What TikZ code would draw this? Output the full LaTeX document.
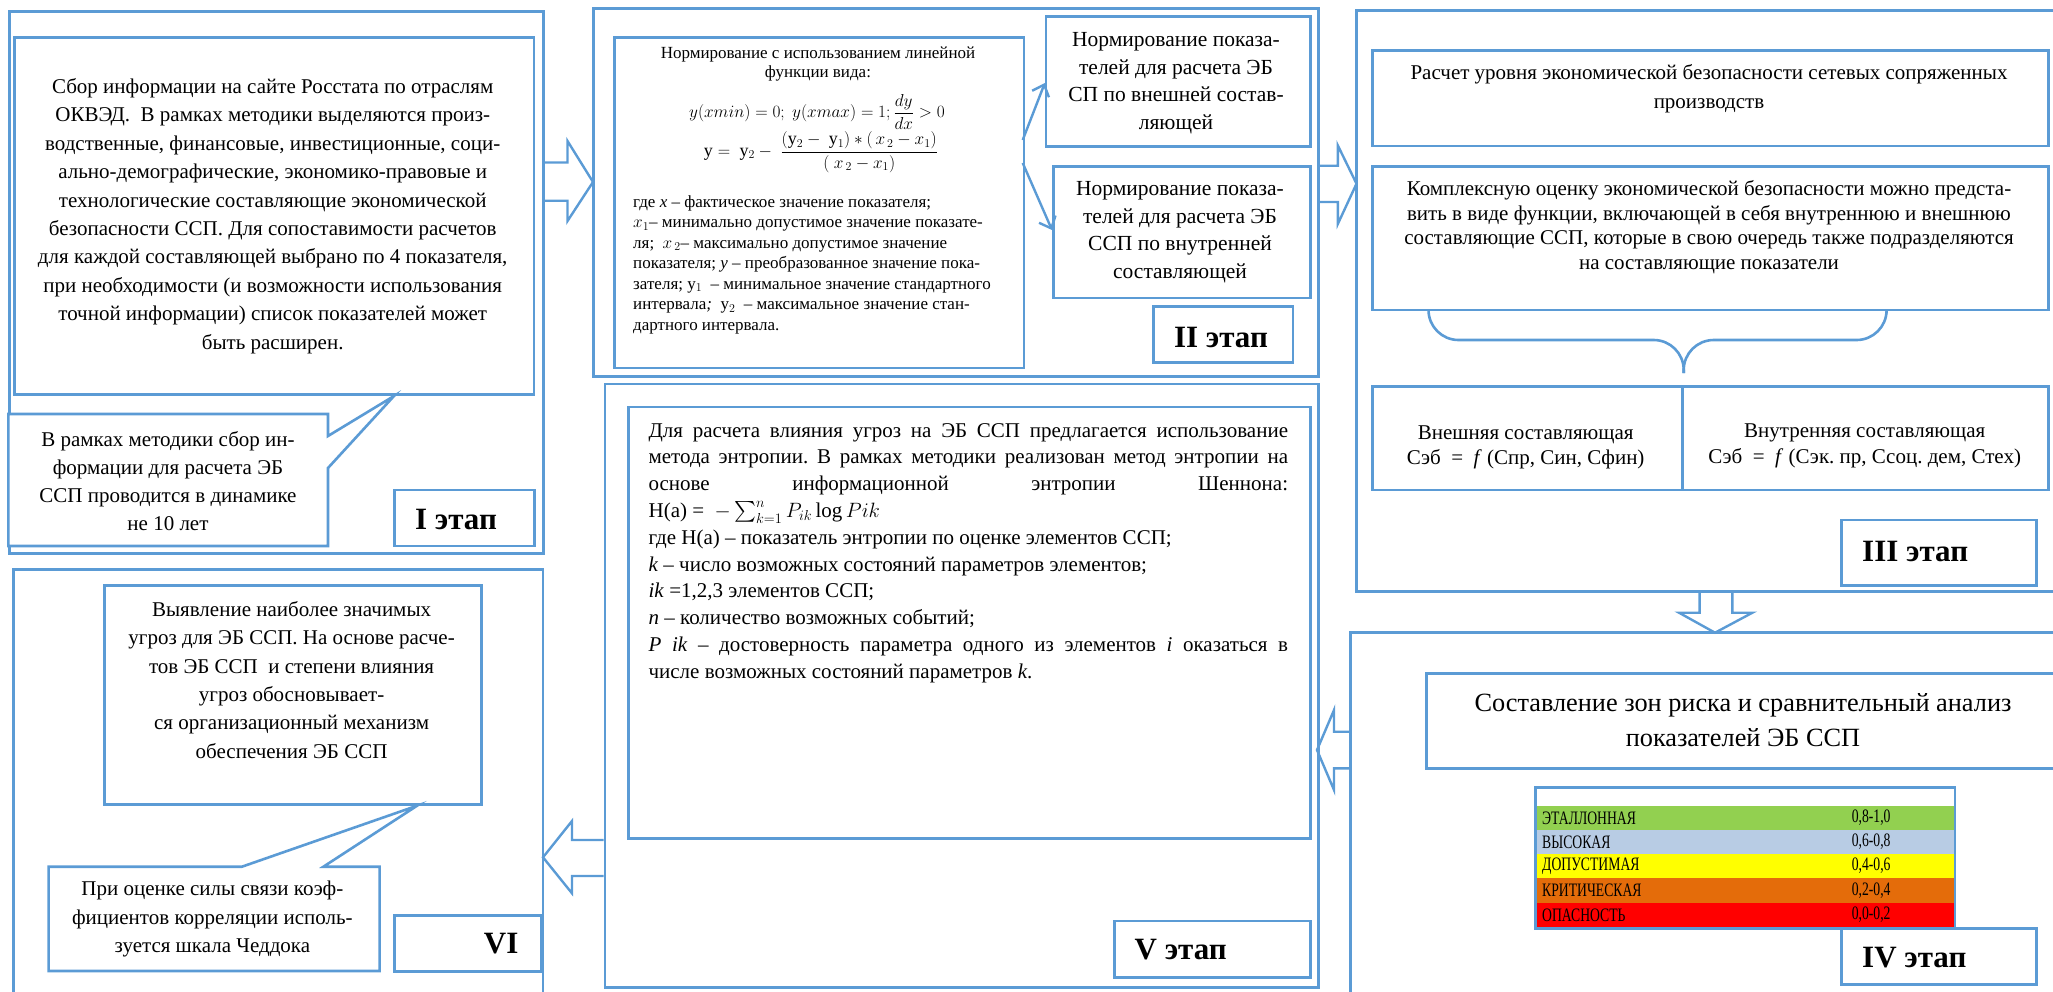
\documentclass[tikz,border=0pt]{standalone}
\usepackage{amsmath}
\usepackage{fontspec}
\setmainfont{Liberation Serif}
\usepackage{graphicx}
\usetikzlibrary{arrows.meta}
\frenchspacing
\definecolor{eblue}{RGB}{91,155,213}
\definecolor{zgreen}{RGB}{146,208,80}
\definecolor{zblue}{RGB}{184,204,228}
\definecolor{zyellow}{RGB}{255,255,0}
\definecolor{zorange}{RGB}{228,108,10}
\definecolor{zred}{RGB}{255,0,0}
\tikzset{
 box/.style={draw=eblue, line width=2.6pt, fill=white, inner sep=0pt, anchor=north west},
 frame/.style={draw=eblue, line width=2.6pt},
 txt/.style={inner sep=0pt, align=center, font=\fontsize{21}{28.4}\selectfont},
 lab/.style={inner sep=0pt, font=\fontsize{31}{31}\selectfont\bfseries},
 barrow/.style={draw=eblue, line width=2.4pt},
 larrow/.style={draw=eblue, line width=2.4pt, -{Straight Barb[length=10pt,width=18pt]}},
 zlab/.style={inner sep=0pt, anchor=west, font=\fontsize{19}{19}\selectfont},
}
\begin{document}
\frenchspacing
\begin{tikzpicture}[x=1pt,y=-1pt]
\useasboundingbox (0,0) rectangle (2053,991);
% ---------- outer frames ----------
\node[box, minimum width=534pt, minimum height=542pt] (outI) at (8,10) {};
\node[box, minimum width=725pt, minimum height=368pt] (outII) at (592,7) {};
\draw[frame] (2060,10.7) -- (1356.5,10.7) -- (1356.5,591.5) -- (2060,591.5);
\draw[frame] (2060,632.7) -- (1350.4,632.7) -- (1350.4,1000);
\node[box, minimum width=713.4pt, minimum height=603.3pt] (outV) at (603.6,382.7) {};
\draw[frame] (13.4,1000) -- (13.4,569.3) -- (543,569.3) -- (543,1000);
% ---------- stage I ----------
\node[box, minimum width=519.5pt, minimum height=357pt] (boxI) at (13,36) {};
\node[txt] (txtI) at (272.7,216) {Сбор информации на сайте Росстата по отраслям\\ОКВЭД.\ \ В рамках методики выделяются произ-\\водственные, финансовые, инвестиционные, соци-\\ально-демографические, экономико-правовые и\\технологические составляющие экономической\\безопасности ССП. Для сопоставимости расчетов\\для каждой составляющей выбрано по 4 показателя,\\при необходимости (и возможности использования\\точной информации) список показателей может\\быть расширен.};
\coordinate (tipI) at (394,396);
\draw[frame, fill=white] (8.4,414) -- (328,414) -- (328,436) -- (tipI) -- (328,468) -- (328,546) -- (8.4,546) -- cycle;
\node[txt, font=\fontsize{21}{27.8}\selectfont] (calI) at (168,481) {В рамках методики сбор ин-\\формации для расчета ЭБ\\ССП проводится в динамике\\не 10 лет};
\node[box, minimum width=140pt, minimum height=56pt] (labI) at (393,488.6) {};
\node[lab] (labItxt) at (456,519.6) {I этап};
% arrow I -> II
\draw[barrow] (542,162.5) -- (567.5,162.5) -- (567.5,141) -- (593,182) -- (567.5,221) -- (567.5,200.7) -- (542,200.7);
% ---------- stage II ----------
\node[box, minimum width=409.7pt, minimum height=330.7pt] (fbox) at (613,36) {};
\node[txt, font=\fontsize{17}{19}\selectfont] (fhead) at (818,64.5) {Нормирование с использованием линейной\\функции вида:};
\node[inner sep=0pt, font=\fontsize{18}{20}\selectfont] (f1) at (817,112) {$y(xmin) = 0;\ y(xmax) = 1;\displaystyle\frac{dy}{dx} > 0$};
\node[inner sep=0pt, font=\fontsize{18}{20}\selectfont] (f2) at (821,152) {$\mathrm{y} =\ \mathrm{y}_2 -\ \displaystyle\frac{(\mathrm{y}_2 -\ \mathrm{y}_1) * (\,x_{\,2} - x_1)}{(\ x_{\,2} - x_1)}$};
\node[inner sep=0pt, anchor=north west, align=left, font=\fontsize{17}{20.5}\selectfont] (fdef) at (633,195) {где \textit{x} – фактическое значение показателя;\\$x_1$– минимально допустимое значение показате-\\ля;\ \ $x_{\,2}$– максимально допустимое значение\\показателя; \textit{y} – преобразованное значение пока-\\зателя; $\mathrm{y}_1$\ \ – минимальное значение стандартного\\интервала\textit{;}\ \ $\mathrm{y}_2$\ \ – максимальное значение стан-\\дартного интервала.};
\node[box, minimum width=264.2pt, minimum height=130pt] (extb) at (1044.8,15) {};
\node[txt, font=\fontsize{21.5}{27.5}\selectfont] (extt) at (1176,83) {Нормирование показа-\\телей для расчета ЭБ\\СП по внешней состав-\\ляющей};
\node[box, minimum width=257pt, minimum height=131.7pt] (intb) at (1052,165) {};
\node[txt, font=\fontsize{21.5}{27.5}\selectfont] (intt) at (1180,232) {Нормирование показа-\\телей для расчета ЭБ\\ССП по внутренней\\составляющей};
\coordinate (a1s) at (1022.7,140);
\coordinate (a1e) at (1044.8,83);
\coordinate (a2s) at (1022.7,163);
\coordinate (a2e) at (1052,230);
\draw[larrow] (a1s) -- (a1e);
\draw[larrow] (a2s) -- (a2e);
\node[box, minimum width=139.6pt, minimum height=56pt] (labII) at (1152,305) {};
\node[lab] (labIItxt) at (1221,337) {II этап};
% arrow II -> III
\draw[barrow] (1317,165.7) -- (1337.8,165.7) -- (1337.8,145.4) -- (1356.5,183.7) -- (1337.8,224) -- (1337.8,202) -- (1317,202);
% ---------- stage III ----------
\node[box, minimum width=675.6pt, minimum height=95.5pt] (r1) at (1371.4,49) {};
\node[txt, font=\fontsize{21}{29}\selectfont] (r1t) at (1709,89) {Расчет уровня экономической безопасности сетевых сопряженных\\производств};
\node[box, minimum width=675.6pt, minimum height=143.5pt] (r2) at (1371.4,165) {};
\node[txt, font=\fontsize{21}{24.6}\selectfont] (r2t) at (1709,227) {Комплексную оценку экономической безопасности можно предста-\\вить в виде функции, включающей в себя внутреннюю и внешнюю\\составляющие ССП, которые в свою очередь также подразделяются\\на составляющие показатели};
\coordinate (brL) at (1428.5,309);
\coordinate (brR) at (1886.6,309);
\coordinate (brT) at (1683.7,373);
\draw[frame, rounded corners=30pt] (brL) -- (1428.5,340) -- (1683.7,340) -- (brT);
\draw[frame, rounded corners=30pt] (brR) -- (1886.6,340) -- (1683.7,340) -- (brT);
\node[box, minimum width=310pt, minimum height=103.7pt] (b1) at (1371.4,385) {};
\node[box, minimum width=365.6pt, minimum height=103.7pt] (b2) at (1681.4,385) {};
\node[txt, font=\fontsize{21}{25}\selectfont] (b1t) at (1525.7,447) {Внешняя составляющая\\Сэб \ = \ \textit{f} (Спр, Син, Сфин)};
\node[txt, font=\fontsize{21}{26}\selectfont] (b2t) at (1864.7,446) {Внутренняя составляющая\\Сэб \ = \ \textit{f} (Сэк. пр, Ссоц. дем, Стех)};
\node[box, minimum width=195pt, minimum height=65.8pt] (labIII) at (1840,518.6) {};
\node[lab, anchor=west] (labIIItxt) at (1862,551) {III этап};
% arrow III -> IV
\draw[barrow] (1699.6,591.5) -- (1699.6,612.7) -- (1679,612.7) -- (1715,632.7) -- (1752.4,612.7) -- (1732.3,612.7) -- (1732.3,591.5);
% ---------- stage IV ----------
\draw[frame] (2060,673.5) -- (1426.6,673.5) -- (1426.6,768.5) -- (2060,768.5);
\node[txt, font=\fontsize{26.3}{35}\selectfont] (s4t) at (1743,720) {Составление зон риска и сравнительный анализ\\показателей ЭБ ССП};
\fill[zgreen] (1534,806) rectangle (1953.5,830);
\fill[zblue] (1534,830) rectangle (1953.5,854);
\fill[zyellow] (1534,854) rectangle (1953.5,878.3);
\fill[zorange] (1534,878.3) rectangle (1953.5,902.7);
\fill[zred] (1534,902.7) rectangle (1953.5,927);
\node[draw=eblue, line width=2.6pt, inner sep=0pt, anchor=north west, minimum width=419.5pt, minimum height=141pt] (ztab) at (1534,786) {};
\node[zlab] (z1a) at (1542,818) {\scalebox{0.72}[1]{ЭТАЛЛОННАЯ}};
\node[zlab] (z1b) at (1851.6,818) {\scalebox{0.72}[1]{0,8-1,0}};
\node[zlab] (z2a) at (1542,842) {\scalebox{0.72}[1]{ВЫСОКАЯ}};
\node[zlab] (z2b) at (1851.6,842) {\scalebox{0.72}[1]{0,6-0,8}};
\node[zlab] (z3a) at (1542,866) {\scalebox{0.72}[1]{ДОПУСТИМАЯ}};
\node[zlab] (z3b) at (1851.6,866) {\scalebox{0.72}[1]{0,4-0,6}};
\node[zlab] (z4a) at (1542,890.5) {\scalebox{0.72}[1]{КРИТИЧЕСКАЯ}};
\node[zlab] (z4b) at (1851.6,890.5) {\scalebox{0.72}[1]{0,2-0,4}};
\node[zlab] (z5a) at (1542,914.8) {\scalebox{0.72}[1]{ОПАСНОСТЬ}};
\node[zlab] (z5b) at (1851.6,914.8) {\scalebox{0.72}[1]{0,0-0,2}};
\node[box, minimum width=195pt, minimum height=56pt] (labIV) at (1840.3,927) {};
\node[lab, anchor=west] (labIVtxt) at (1862,958) {IV этап};
% arrow IV -> V
\draw[barrow] (1350.4,731.7) -- (1334,731.7) -- (1334,710) -- (1317,750) -- (1334,790) -- (1334,768.3) -- (1350.4,768.3);
% ---------- stage V ----------
\node[box, minimum width=681.8pt, minimum height=431.7pt] (vbox) at (627.2,405.6) {};
\node[inner sep=0pt, anchor=north west, text width=639.5pt, align=justify, font=\fontsize{21}{26.8}\selectfont] (vtext) at (648.4,423) {Для расчета влияния угроз на ЭБ ССП предлагается использование\linebreak метода энтропии. В рамках методики реализован метод энтропии на\linebreak основе информационной энтропии Шеннона:\linebreak Н(а) = \ $-\sum_{k=1}^{n}P_{ik}\log Pik$\\где Н(а) – показатель энтропии по оценке элементов ССП;\\\textit{k} – число возможных состояний параметров элементов;\\\textit{ik} =1,2,3 элементов ССП;\\\textit{n} – количество возможных событий;\\\textit{P ik} – достоверность параметра одного из элементов \textit{i} оказаться в\linebreak числе возможных состояний параметров \textit{k}.};
\node[box, minimum width=195.7pt, minimum height=56.3pt] (labV) at (1113.3,919.7) {};
\node[lab, anchor=west] (labVtxt) at (1134.5,950) {V этап};
% arrow V -> VI
\draw[barrow] (603.6,840) -- (572,840) -- (572,821) -- (543,857.3) -- (572,893.3) -- (572,876) -- (603.6,876);
% ---------- stage VI ----------
\node[box, minimum width=377pt, minimum height=219pt] (vibox) at (103.3,584.3) {};
\node[txt, font=\fontsize{21}{28.35}\selectfont] (vitxt) at (291.6,680) {Выявление наиболее значимых\\угроз для ЭБ ССП. На основе расче-\\тов ЭБ ССП\ \ и степени влияния\\угроз обосновывает-\\ся организационный механизм\\обеспечения ЭБ ССП};
\coordinate (tipVI) at (417.1,805.7);
\draw[frame, fill=white] (48.6,866.7) -- (241.9,866.7) -- (tipVI) -- (323.4,866.7) -- (379.6,866.7) -- (379.6,971) -- (48.6,971) -- cycle;
\node[txt, font=\fontsize{21}{28.35}\selectfont] (calVI) at (212.4,919) {При оценке силы связи коэф-\\фициентов корреляции исполь-\\зуется шкала Чеддока};
\node[box, minimum width=147pt, minimum height=55.7pt] (labVI) at (393.4,914.3) {};
\node[lab, anchor=east] (labVItxt) at (518.6,944) {VI};
\end{tikzpicture}
\end{document}
